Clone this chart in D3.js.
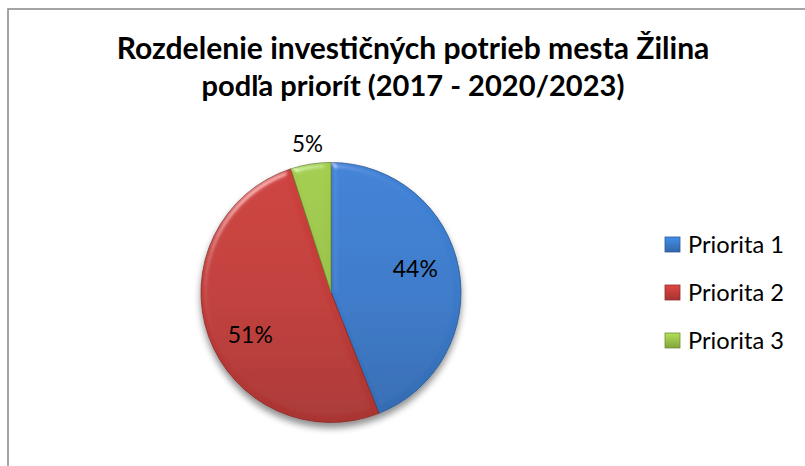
<!DOCTYPE html>
<html>
<head>
<meta charset="utf-8">
<script src="https://cdn.jsdelivr.net/npm/d3@7"></script>
<style>
  body { margin: 0; background: #fff; }
  svg { display: block; }
</style>
</head>
<body>
<svg id="chart" width="805" height="466"></svg>
<script>
// Investment needs by priority (percent of total)
const categories = ["Priorita 1", "Priorita 2", "Priorita 3"];
const shares = [44, 51, 5];
const titleLines = [
  "Rozdelenie investičných potrieb mesta Žilina",
  "podľa priorít (2017 - 2020/2023)"
];
const baseColors = ["#3a79c8", "#c03c39", "#98c049"];

const W = 805, H = 466;
const font = "Lato, 'Open Sans', sans-serif";
const svg = d3.select("#chart");
const defs = svg.append("defs");

// scale a text element so that it spans the given width
function fitWidth(sel, width) {
  const len = sel.node().getComputedTextLength();
  const fs = parseFloat(sel.attr("font-size"));
  sel.attr("font-size", fs * width / len);
}

// chart frame
svg.append("rect")
  .attr("x", 8).attr("y", 9)
  .attr("width", W + 20).attr("height", H + 20)
  .attr("fill", "#fff")
  .attr("stroke", "#8e8e8e").attr("stroke-width", 1.6);

// title
const titleX = 413;
const titleBase = [59, 96];
const titleWidths = [593, 423];
titleLines.forEach((t, i) => {
  const el = svg.append("text")
    .attr("x", titleX).attr("y", titleBase[i])
    .attr("text-anchor", "middle")
    .attr("font-family", font).attr("font-weight", 700)
    .attr("font-size", 28).attr("fill", "#000")
    .text(t);
  fitWidth(el, titleWidths[i]);
});

// pie geometry
const cx = 331, cy = 292.5, R = 130;

// soft drop shadow under the pie
const shadow = defs.append("filter").attr("id", "shadow")
  .attr("x", "-20%").attr("y", "-20%").attr("width", "140%").attr("height", "140%");
shadow.append("feGaussianBlur").attr("in", "SourceAlpha").attr("stdDeviation", 3.5).attr("result", "b");
shadow.append("feOffset").attr("in", "b").attr("dy", 5).attr("result", "o");
shadow.append("feComponentTransfer").attr("in", "o").attr("result", "s")
  .append("feFuncA").attr("type", "linear").attr("slope", 0.45);
const sm = shadow.append("feMerge");
sm.append("feMergeNode").attr("in", "s");
sm.append("feMergeNode").attr("in", "SourceGraphic");

// bevel lighting for each slice: highlight only on the sloped rim
const bevel = defs.append("filter").attr("id", "bevel")
  .attr("x", "-5%").attr("y", "-5%").attr("width", "110%").attr("height", "110%");
bevel.append("feGaussianBlur").attr("in", "SourceAlpha").attr("stdDeviation", 3).attr("result", "blur");
bevel.append("feSpecularLighting").attr("in", "blur")
  .attr("surfaceScale", 3).attr("specularConstant", 0.7)
  .attr("specularExponent", 40).attr("lighting-color", "#ffffff").attr("result", "spec")
  .append("feDistantLight").attr("azimuth", 235).attr("elevation", 42);
bevel.append("feComposite").attr("in", "spec").attr("in2", "SourceAlpha")
  .attr("operator", "in").attr("result", "specIn");
bevel.append("feComposite").attr("in", "SourceGraphic").attr("in2", "specIn")
  .attr("operator", "arithmetic").attr("k1", 0).attr("k2", 1).attr("k3", 0.45).attr("k4", 0);

// vertical shading per colour (group frame: pie centre at origin)
baseColors.forEach((c, i) => {
  const g = defs.append("linearGradient").attr("id", "grad" + i)
    .attr("gradientUnits", "userSpaceOnUse")
    .attr("x1", 0).attr("y1", -R).attr("x2", 0).attr("y2", R);
  g.append("stop").attr("offset", "0%").attr("stop-color", d3.color(c).brighter(0.2));
  g.append("stop").attr("offset", "55%").attr("stop-color", c);
  g.append("stop").attr("offset", "100%").attr("stop-color", d3.color(c).darker(0.35));
});

const pie = d3.pie().sort(null).value(d => d);
const arcs = pie(shares);
const arc = d3.arc().innerRadius(0).outerRadius(R);

const pieG = svg.append("g")
  .attr("transform", `translate(${cx},${cy})`)
  .attr("filter", "url(#shadow)");

pieG.selectAll("path.slice")
  .data(arcs)
  .join("path")
  .attr("class", "slice")
  .attr("d", arc)
  .attr("fill", (d, i) => `url(#grad${i})`)
  .attr("stroke", (d, i) => d3.color(baseColors[i]).darker(1))
  .attr("stroke-width", 0.8)
  .attr("filter", "url(#bevel)");

// data labels: inside for large slices (spread a little vertically),
// outside for the small one
const insideArc = d3.arc().innerRadius(R * 0.66).outerRadius(R * 0.66);
const outsideArc = d3.arc().innerRadius(R + 20).outerRadius(R + 20);
const labels = svg.append("g")
  .attr("transform", `translate(${cx},${cy})`)
  .selectAll("text")
  .data(arcs)
  .join("text")
  .attr("transform", d => {
    if (d.data < 10) {
      const p = outsideArc.centroid(d);
      return `translate(${p[0]},${p[1]})`;
    }
    const p = insideArc.centroid(d);
    return `translate(${p[0]},${p[1] * 1.45})`;
  })
  .attr("text-anchor", "middle")
  .attr("dy", "0.35em")
  .attr("font-family", font)
  .attr("font-size", 22)
  .attr("fill", "#000")
  .text(d => d.data + "%");
labels.each(function (d) { fitWidth(d3.select(this), d.data < 10 ? 31 : 45); });

// legend
const legendY = d3.scalePoint().domain(categories).range([245, 341]);
const items = svg.append("g").selectAll("g").data(categories).join("g")
  .attr("transform", d => `translate(665,${legendY(d)})`);

baseColors.forEach((c, i) => {
  const g = defs.append("linearGradient").attr("id", "lg" + i)
    .attr("x1", 0).attr("y1", 0).attr("x2", 0).attr("y2", 1);
  g.append("stop").attr("offset", "0%").attr("stop-color", d3.color(c).brighter(0.45));
  g.append("stop").attr("offset", "100%").attr("stop-color", d3.color(c).darker(0.45));
});

items.append("rect")
  .attr("x", 0).attr("y", -8).attr("width", 15).attr("height", 15)
  .attr("fill", (d, i) => `url(#lg${i})`)
  .attr("stroke", (d, i) => d3.color(baseColors[i]).darker(0.8))
  .attr("stroke-width", 0.8);

items.append("text")
  .attr("x", 23).attr("y", 0)
  .attr("dy", "0.35em")
  .attr("font-family", font)
  .attr("font-size", 22)
  .attr("fill", "#000")
  .text(d => d)
  .each(function () { fitWidth(d3.select(this), 96); });
</script>
</body>
</html>
